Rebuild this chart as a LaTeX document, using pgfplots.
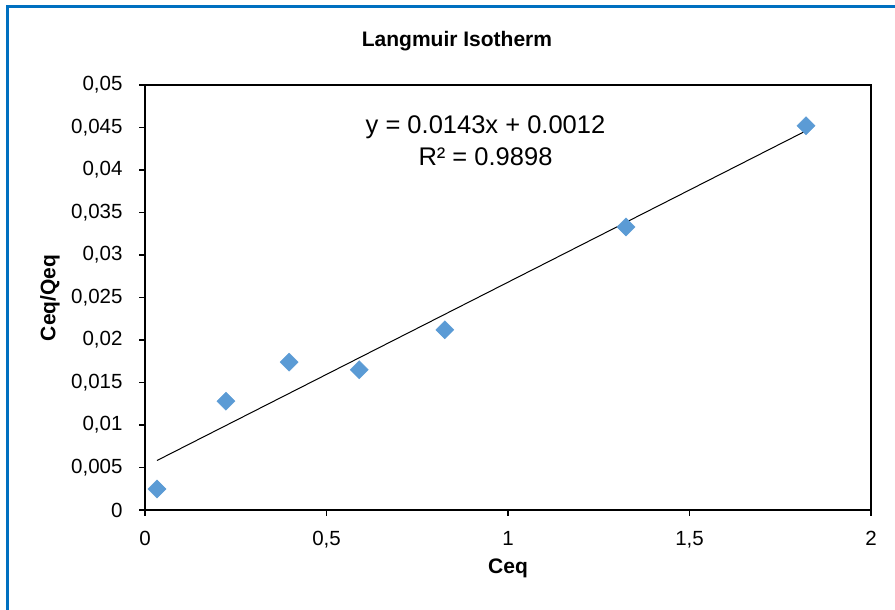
\documentclass[border=0pt]{standalone}
\usepackage{pgfplots}
\pgfplotsset{compat=1.18}
\usepackage{pgfplotstable}
\usepackage{fontspec}
\setmainfont{Liberation Sans}
\definecolor{frameblue}{RGB}{0,112,192}
\definecolor{ptblue}{RGB}{91,155,213}
\pgfplotstableread{
x y
0.033 0.00247
0.223 0.0128
0.397 0.0174
0.590 0.0165
0.826 0.0212
1.325 0.0333
1.821 0.0452
}\datatable
\begin{document}
\begin{tikzpicture}[x=1pt,y=1pt]
\useasboundingbox (0,0) rectangle (895,610);
\fill[white] (0,0) rectangle (895,610);
\draw[frameblue, line width=3pt] (7.5,0) -- (7.5,603) -- (895,603);
\node[font=\fontsize{21}{25}\selectfont\bfseries] at (457,569) {Langmuir Isotherm};
\begin{axis}[
  at={(145pt,100pt)}, anchor=south west,
  scale only axis, width=726pt, height=425pt,
  xmin=0, xmax=2, ymin=0, ymax=0.05,
  xtick={0,0.5,1,1.5,2},
  ytick={0,0.005,0.01,0.015,0.02,0.025,0.03,0.035,0.04,0.045,0.05},
  tick align=outside, tick pos=left, major tick length=6pt,
  tick style={black, line width=1.2pt},
  axis line style={line width=2pt},
  /pgf/number format/use comma,
  /pgf/number format/fixed,
  /pgf/number format/precision=3,
  /pgf/number format/assume math mode=true,
  scaled ticks=false,
  ticklabel style={font=\fontsize{20.5}{24}\selectfont},
  yticklabel style={xshift=-13pt},
  xticklabel style={yshift=-12pt},
  xlabel={Ceq}, ylabel={Ceq/Qeq},
  label style={font=\fontsize{21}{25}\selectfont\bfseries},
  xlabel style={at={(axis description cs:0.5,-0.1365)}, anchor=center},
  ylabel style={at={(axis description cs:-0.1309,0.499)}, anchor=center},
  clip=false,
]
\addplot[only marks, color=ptblue, mark=square*, mark size=6.4pt,
  mark options={rotate=45, fill=ptblue, draw=none}] table[x=x,y=y]{\datatable};
\addplot[black, line width=1pt, no marks] table[x=x, y={create col/linear regression={y=y}}]{\datatable};
\node[font=\fontsize{25.5}{30}\selectfont] at (axis cs:0.938,0.04506) {y = 0.0143x + 0.0012};
\node[font=\fontsize{25.5}{30}\selectfont] at (axis cs:0.938,0.04153) {R² = 0.9898};
\end{axis}
\end{tikzpicture}
\end{document}
